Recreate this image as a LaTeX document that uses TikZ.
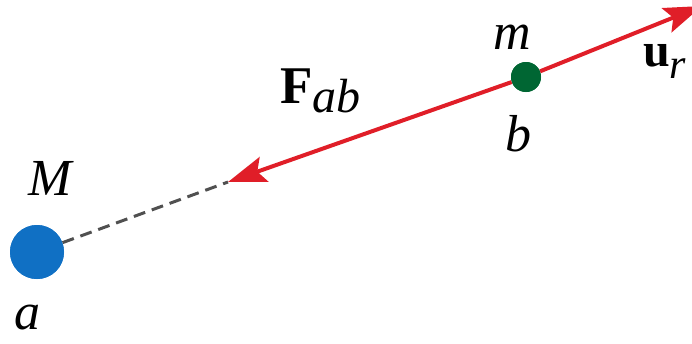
\documentclass[tikz,border=0pt]{standalone}
\usepackage{fontspec}
\setmainfont{Liberation Serif}[ItalicFont={Liberation Serif Italic},BoldFont={Liberation Serif Bold}]
\usetikzlibrary{arrows.meta}
\definecolor{massblue}{RGB}{16,112,196}
\definecolor{massgreen}{RGB}{0,102,51}
\definecolor{forcered}{RGB}{224,30,40}
\definecolor{dashgray}{RGB}{80,80,80}
\tikzset{
  mass/.style={circle, inner sep=0pt, draw=none},
  lbl/.style={inner sep=0pt, font=\fontsize{52}{58}\selectfont\itshape},
  force/.style={draw=forcered, line width=4pt, -{Stealth[length=38pt,width=26pt,inset=7pt]}},
  guide/.style={draw=dashgray, line width=3pt, dash pattern=on 12pt off 7pt}
}
\begin{document}
\begin{tikzpicture}[x=1pt,y=-1pt]
\useasboundingbox (0,0) rectangle (692,343);
\clip (0,0) rectangle (692,343);
% masses
\node[mass, fill=massblue, minimum size=54pt] (a) at (37,252) {};
\node[mass, fill=massgreen, minimum size=30pt] (b) at (526,77) {};
% free ends
\coordinate (t1) at (228,182);
\coordinate (t2) at (702,6);
% connectors
\draw[guide] (a) -- (t1);
\draw[force] (b) -- (t1);
\draw[force] (b) -- (t2);
% redraw masses on top
\node[mass, fill=massblue, minimum size=54pt] at (a) {};
\node[mass, fill=massgreen, minimum size=30pt] at (b) {};
% labels
\node[lbl] (lM) at (50,178) {M};
\node[lbl] (la) at (27,318) {a};
\node[lbl] (lm) at (512,37) {m};
\node[lbl] (lb) at (518,134) {b};
\node[inner sep=0pt, anchor=base west, font=\fontsize{53}{60}\selectfont] (lF) at (280,103) {\textbf{F}\raisebox{-9pt}{\fontsize{48}{52}\selectfont\itshape ab}};
\node[inner sep=0pt, anchor=base west, font=\fontsize{48}{55}\selectfont] (lu) at (643,66) {\textbf{u}\raisebox{-12pt}{\fontsize{42}{48}\selectfont\itshape r}};
\end{tikzpicture}
\end{document}
